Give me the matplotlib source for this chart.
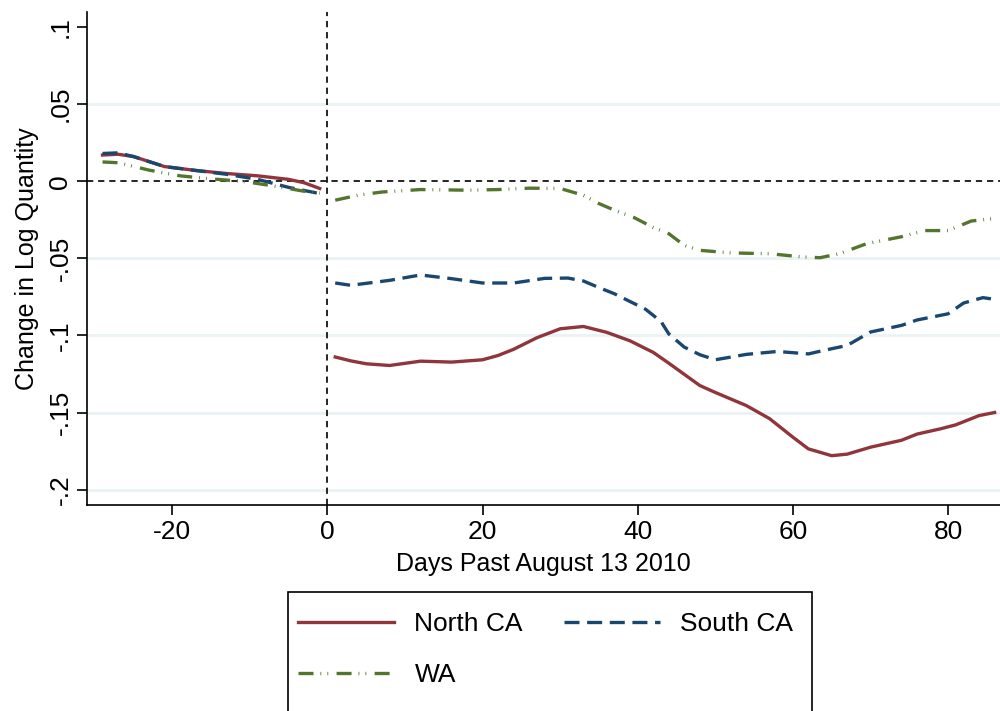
import numpy as np
import matplotlib
matplotlib.use("Agg")
import matplotlib.pyplot as plt
from matplotlib.patches import Rectangle

plt.rcParams['font.family'] = ['Liberation Sans', 'DejaVu Sans']
plt.rcParams['lines.scale_dashes'] = False
plt.rcParams['axes.unicode_minus'] = False

# days before the date (pre) and after (post); gap at day 0
north_pre_x = [-29, -27, -25, -21, -17, -13, -9, -5, -3, -1]
north_pre_y = [0.017, 0.0175, 0.016, 0.0095, 0.007, 0.005, 0.0035, 0.0012, -0.001, -0.0047]
north_post_x = [1, 3, 5, 8, 12, 16, 20, 22, 24, 27, 30, 33, 36, 39, 42, 44, 48, 50, 54, 57,
                60, 62, 65, 67, 70, 74, 76, 79, 81, 84, 86]
north_post_y = [-0.114, -0.1165, -0.1184, -0.1195, -0.1167, -0.1173, -0.1158, -0.113, -0.109,
                -0.1015, -0.0957, -0.0942, -0.098, -0.1035, -0.111, -0.118, -0.1325, -0.137,
                -0.1455, -0.154, -0.166, -0.1736, -0.178, -0.177, -0.1725, -0.168, -0.164,
                -0.1606, -0.158, -0.152, -0.150]

south_pre_x = [-29, -27, -25, -21, -17, -13, -9, -5, -3, -1]
south_pre_y = [0.018, 0.0184, 0.016, 0.0095, 0.007, 0.0045, 0.0012, -0.004, -0.006, -0.008]
south_post_x = [1, 3, 8, 12, 16, 20, 24, 28, 31, 33, 35, 37, 39, 41, 43, 44, 46, 48, 50, 54,
                58, 62, 64, 67, 70, 74, 76, 80, 82, 84.5, 86]
south_post_y = [-0.066, -0.0675, -0.0643, -0.0608, -0.0632, -0.066, -0.066, -0.063, -0.0628,
                -0.0647, -0.069, -0.073, -0.078, -0.083, -0.091, -0.099, -0.1076, -0.1125,
                -0.1158, -0.1123, -0.1104, -0.112, -0.1097, -0.1065, -0.0978, -0.0935, -0.090,
                -0.086, -0.079, -0.0755, -0.0766]

wa_pre_x = [-29, -27, -23, -19, -15, -11, -7, -3, -1]
wa_pre_y = [0.0125, 0.012, 0.0072, 0.0035, 0.0015, 0.0, -0.003, -0.0065, -0.0077]
wa_post_x = [1, 4, 7, 12, 18, 22, 26, 30, 33, 35, 37, 39.5, 42, 44, 46, 48, 52, 57, 61, 63.5,
             66, 69.5, 74, 77, 80, 83, 86]
wa_post_y = [-0.0123, -0.009, -0.007, -0.0054, -0.0058, -0.0054, -0.0045, -0.0047, -0.0091,
             -0.0145, -0.0188, -0.0235, -0.030, -0.034, -0.0416, -0.0448, -0.0465, -0.047,
             -0.049, -0.0496, -0.047, -0.0405, -0.036, -0.032, -0.032, -0.0258, -0.0242]

x_ticks = [-20, 0, 20, 40, 60, 80]
y_ticks = [0.1, 0.05, 0, -0.05, -0.1, -0.15, -0.2]
y_labels = ['.1', '.05', '0', '-.05', '-.1', '-.15', '-.2']
grid_y = [0.05, -0.05, -0.1, -0.15, -0.2]


def join(px, py, qx, qy):
    return list(px) + [0] + list(qx), list(py) + [np.nan] + list(qy)


fig = plt.figure(figsize=(10, 7.11), dpi=100)
ax = fig.add_axes([0.087, 0.2897, 0.913, 0.6933])

for g in grid_y:
    ax.axhline(g, color='#eaf2f3', lw=2, zorder=0)
ax.axhline(0, color='black', lw=1.2, dashes=(4.5, 3.5), zorder=1)
ax.axvline(0, color='black', lw=1.2, dashes=(4.5, 3.5), zorder=1)

x, y = join(north_pre_x, north_pre_y, north_post_x, north_post_y)
l_north, = ax.plot(x, y, color='#90353b', lw=2.4, label='North CA', zorder=3)
x, y = join(south_pre_x, south_pre_y, south_post_x, south_post_y)
l_south, = ax.plot(x, y, color='#1a476f', lw=2.4, dashes=(10.8, 5.5), label='South CA', zorder=3)
x, y = join(wa_pre_x, wa_pre_y, wa_post_x, wa_post_y)
l_wa, = ax.plot(x, y, color='#55752f', lw=2.4, dashes=(10.8, 5, 0.6, 4.4, 0.6, 6),
                label='WA', zorder=3)

ax.set_xlim(-31, 86.7)
ax.set_ylim(-0.21, 0.1097)
ax.set_xticks(x_ticks)
ax.set_yticks(y_ticks)
ax.set_yticklabels(y_labels, rotation=90, va='center')
ax.tick_params(axis='both', labelsize=19, length=7, width=1.2, direction='out')
ax.spines['top'].set_visible(False)
ax.spines['right'].set_visible(False)
ax.spines['left'].set_linewidth(1.2)
ax.spines['bottom'].set_linewidth(1.2)
ax.set_xlabel('Days Past August 13 2010', fontsize=18, labelpad=6)
ax.set_ylabel('Change in Log Quantity', fontsize=18, labelpad=7)

# legend box, runs off the bottom edge as in the original
fig.patches.append(Rectangle((0.288, -0.02), 0.524, 0.187, transform=fig.transFigure,
                             fill=False, edgecolor='black', lw=1.2))
# column-major fill: order so rows read North CA, South CA / WA
fig.legend([l_north, l_wa, l_south], ['North CA', 'WA', 'South CA'],
           loc='upper left', bbox_to_anchor=(0.2875, 0.1535), ncol=2, frameon=False,
           fontsize=19, handlelength=3.65, handletextpad=0.76, columnspacing=1.55,
           labelspacing=1.0, borderaxespad=0)

fig.savefig('out.png', dpi=100)
